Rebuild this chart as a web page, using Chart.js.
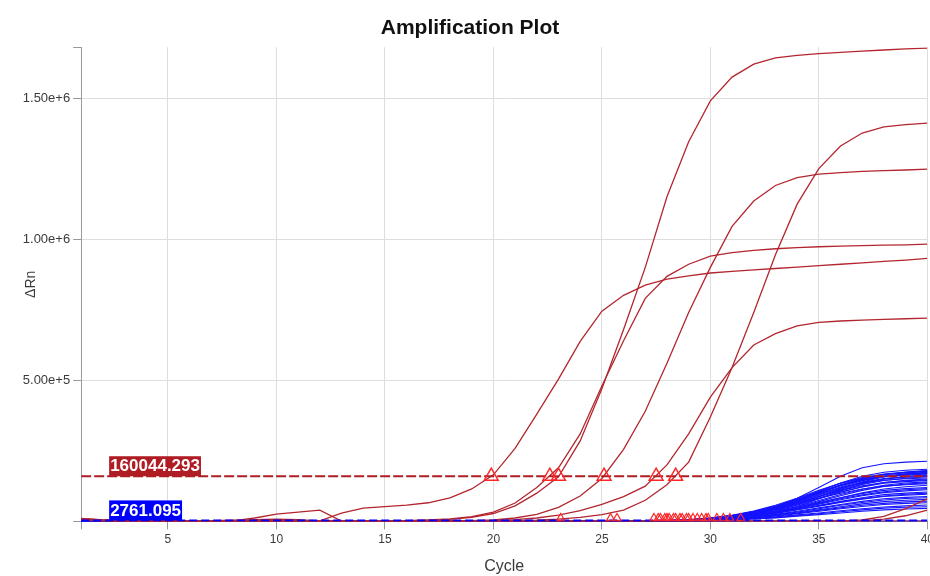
<!DOCTYPE html>
<html>
<head>
<meta charset="utf-8">
<title>Amplification Plot</title>
<script src="https://cdn.jsdelivr.net/npm/chart.js@4/dist/chart.umd.min.js"></script>
<style>
  html, body { margin:0; padding:0; background:#fff; overflow:hidden; }
  #wrap { width:937px; height:576px; }
</style>
</head>
<body>
<div id="wrap"><canvas id="amp" width="937" height="576"></canvas></div>
<script>
"use strict";

// All ΔRn values are in thousands (1 = 1e3 ΔRn).
const CYCLES = [1,2,3,4,5,6,7,8,9,10,11,12,13,14,15,16,17,18,19,20,
                21,22,23,24,25,26,27,28,29,30,31,32,33,34,35,36,37,38,39,40];

// Red (target) wells, cycles 1..40
const RED_1 = [10,5,3,2,2,2,3,4,6,8,6,2,29,47,52,58,66,83,115,165,259,380,504,638,745,801,837,858,870,880,886,891,896,901,906,911,916,921,926,932];
const RED_2 = [9,4,2,1,1,1,1,1,1,1,1,1,1,1,1,2,4,7,14,28,55,100,158,285,470,680,900,1150,1345,1490,1574,1620,1642,1651,1657,1662,1666,1670,1674,1677];
const RED_3 = [11,5,3,2,2,2,2,2,2,2,2,2,2,2,3,3,5,9,17,33,65,120,190,310,480,640,790,868,911,940,952,960,966,970,973,975,977,979,980,982];
const RED_4 = [7,3,2,1,1,1,1,1,1,1,1,1,1,1,1,1,1,2,3,5,12,25,50,90,152,255,390,560,740,900,1045,1135,1190,1218,1230,1236,1240,1243,1245,1248];
const RED_5 = [8,4,2,1,1,1,1,1,1,1,1,1,1,1,1,1,1,1,1,1,2,4,8,14,24,40,75,130,210,370,545,740,945,1124,1250,1330,1376,1398,1406,1411];
const RED_6 = [6,3,2,1,1,1,1,1,1,1,1,1,1,1,1,1,1,1,2,3,6,12,22,38,60,88,125,200,310,440,545,625,665,693,705,710,713,716,718,720];
const RED_7 = [8,4,2,1,1,1,1,2,12,26,33,40,1,1,1,1,1,1,1,1,1,1,1,1,1,1,1,1,1,1,1,1,1,1,1,1,1,1,1,1];
const RED_8 = [5,2,1,1,1,1,1,1,1,1,1,1,1,1,1,1,1,1,1,1,1,1,1,1,1,1,1,1,1,1,1,1,1,1,1,1,5,18,45,80];
const RED_9 = [4,2,1,1,1,1,1,1,1,1,1,1,1,1,1,1,1,1,1,1,1,1,1,1,1,1,1,1,1,1,1,1,1,1,1,1,2,8,20,40];
const RED_WELLS = [RED_1, RED_2, RED_3, RED_4, RED_5, RED_6, RED_7, RED_8, RED_9];

// Blue (reference) wells: flat until ~cycle 26, so only the late cycles are listed
const BLUE_CYCLES = [1,26,27,28,29,30,31,32,33,34,35,36,37,38,39,40];
const BLUE_WELLS = [
  [0,0.5,1,2,4,9,18,32,52,82,120,160,190,204,210,213],
  [0,0.4,1,2.2,4.6,9.5,18,31,50,76,106,136,160,174,181,185],
  [0,0.5,1,2.5,5,10,19,33,52,78,108,135,155,168,175,180],
  [0,0.3,0.9,2.1,4.4,9,17,29,47,72,102,130,152,166,174,179],
  [0,0.3,0.8,2,4,8,15,27,45,70,100,128,150,165,173,178],
  [0,0.6,1.2,3,6,12,22,37,57,82,110,135,153,166,172,176],
  [0,0.2,0.6,1.5,3,6,12,22,38,60,88,116,140,158,168,174],
  [0,0.4,1,2,5,10,18,30,48,72,100,126,147,161,168,172],
  [0,0.6,1.3,3,6,12,21,35,54,78,104,128,148,161,167,171],
  [0,0.3,0.8,2,4,8,16,28,45,68,95,122,144,158,166,170],
  [0,0.5,1,2.5,5,11,20,34,53,77,103,127,146,158,164,168],
  [0,0.2,0.5,1.2,2.5,5,10,19,33,53,80,108,133,150,159,165],
  [0,0.4,1,2,4.5,9,17,29,46,68,93,118,139,152,158,162],
  [0,0.3,0.7,1.7,3.5,7.5,14,25,41,62,88,114,136,150,157,160],
  [0,0.3,0.8,1.8,4,8,15,26,42,63,87,111,131,145,153,158],
  [0,0.5,1.2,2.8,6,12,21,35,53,75,98,119,136,146,151,154],
  [0,0.2,0.6,1.5,3,7,13,23,38,57,80,103,123,138,146,150],
  [0,0.5,1.1,2.5,5.2,10,18,30,46,66,88,109,126,138,144,147],
  [0,0.4,1,2.2,4.5,9,16,27,42,61,83,104,122,135,141,145],
  [0,0.3,0.7,1.6,3.5,7,13,22,36,53,74,95,114,128,136,140],
  [0,0.2,0.5,1.2,2.7,5.5,11,20,33,50,70,91,110,124,132,137],
  [0,0.5,1,2.4,5,10,18,29,44,62,82,100,115,125,130,134],
  [0,0.2,0.5,1.3,3,6,11,19,31,46,65,84,101,115,123,128],
  [0,0.4,0.9,2,4,8,14,23,35,50,67,84,99,110,116,120],
  [0,0.3,0.8,1.8,3.7,7,13,21,33,47,63,80,94,105,112,116],
  [0,0.3,0.7,1.6,3.3,6.5,12,20,31,45,61,77,91,102,108,112],
  [0,0.2,0.6,1.4,3,6,11,18,28,41,56,71,84,95,100,104],
  [0,0.5,1,2.2,4.2,8,13,21,31,43,56,69,81,90,96,100],
  [0,0.4,0.8,1.8,3.6,7,12,19,29,41,54,67,79,88,93,96],
  [0,0.3,0.6,1.4,2.8,5.5,10,16,25,36,48,60,71,80,85,88],
  [0,0.2,0.5,1.2,2.5,5,9,15,23,33,45,57,67,76,81,84],
  [0,0.2,0.5,1.1,2.3,4.5,8,13,21,30,41,52,62,70,75,78],
  [0,0.4,0.8,1.6,3,5.5,9,14,21,29,39,48,57,64,69,72],
  [0,0.3,0.6,1.2,2.4,4.5,8,12.5,19,27,36,45,53,60,64,66],
  [0,0.2,0.5,1,2,3.8,6.5,10.5,16,23,30,38,45,51,55,58],
  [0,0.2,0.4,0.9,1.8,3.4,6,9.5,14,20,27,34,41,47,50,52],
  [0,0.3,0.5,1,1.8,3.2,5.5,8.5,12.5,18,24,30,36,41,44,46],
  [0,0.2,0.3,0.2,0.4,0.3,0.5,0.4,0.6,0.5,0.7,0.6,0.8,0.7,0.9,0.8],
];

// Thresholds (raw ΔRn) and the Ct markers drawn on them
const THRESHOLDS = [160044.293, 2761.095];
const CT_RED = [19.9, 22.6, 23.0, 25.1, 27.5, 28.4];
const CT_BLUE = [23.1, 25.4, 25.7, 27.4, 27.6, 27.7, 27.9, 28.0, 28.1, 28.3, 28.4, 28.6, 28.7,
                 28.9, 29.0, 29.2, 29.4, 29.6, 29.8, 29.9, 30.3, 30.6, 30.9, 31.4];
const CT_BLUE_Y = 12;   // small markers sit just above the lower threshold in the plot

const X_TICKS = [1,5,10,15,20,25,30,35,40];
const Y_TICKS = [0,500,1000,1500,1680];
const Y_LABELED = [500,1000,1500];

const C = {red:'#b3262f', blue:'#1414ff', thrRed:'#b01c23', thrBlue:'#0000ff',
           marker:'#ff2626', grid:'#dedede', axis:'#9a9a9a', ink:'#3a3a3a'};
const FONT = "'Liberation Sans', Arial, sans-serif";

const pts = (xs, ys) => ys.map((v, i) => ({x: xs[i], y: v}));

const datasets = [];
datasets.push({label:'Ct', data:CT_RED.map(c => ({x:c, y:THRESHOLDS[0] / 1000})), showLine:false,
  pointStyle:'triangle', pointRadius:8, pointBorderColor:C.marker, pointBackgroundColor:'rgba(0,0,0,0)',
  pointBorderWidth:1.5, order:0});
datasets.push({label:'Ct ref', data:CT_BLUE.map(c => ({x:c, y:CT_BLUE_Y})), showLine:false,
  pointStyle:'triangle', pointRadius:4.5, pointBorderColor:C.marker, pointBackgroundColor:'rgba(0,0,0,0)',
  pointBorderWidth:1.2, order:0});
THRESHOLDS.forEach((t, i) => datasets.push({label:'thr' + i,
  data:[{x:1, y:t / 1000}, {x:40, y:t / 1000}], borderColor:i ? C.thrBlue : C.thrRed,
  borderWidth:2, borderDash:i ? [8, 4] : [10, 3], pointRadius:0, order:1}));
RED_WELLS.forEach((w, i) => datasets.push({label:'red' + i, data:pts(CYCLES, w),
  borderColor:C.red, borderWidth:1.3, pointRadius:0, order:2}));
BLUE_WELLS.forEach((w, i) => datasets.push({label:'blue' + i, data:pts(BLUE_CYCLES, w),
  borderColor:C.blue, borderWidth:1.1, pointRadius:0, order:3}));

// value boxes sitting on the threshold lines
const thresholdLabels = {
  id:'thresholdLabels',
  afterDatasetsDraw(chart) {
    const {ctx, chartArea, scales:{y}} = chart;
    ctx.save();
    ctx.font = 'bold 17px ' + FONT;
    ctx.textBaseline = 'middle';
    THRESHOLDS.forEach((t, i) => {
      const txt = t.toFixed(3);
      const yp = Math.min(y.getPixelForValue(t / 1000), chartArea.bottom - 1);
      const w = ctx.measureText(txt).width + 2;
      const x0 = chartArea.left + 28;
      ctx.fillStyle = i ? C.thrBlue : C.thrRed;
      ctx.fillRect(x0, yp - 20, w, 20);
      ctx.fillStyle = '#fff';
      ctx.fillText(txt, x0 + 1, yp - 9.5);
    });
    ctx.restore();
  }
};

new Chart(document.getElementById('amp'), {
  type:'line',
  data:{datasets},
  plugins:[thresholdLabels],
  options:{
    responsive:false, animation:false, events:[],
    layout:{padding:{left:3, bottom:0}},
    elements:{line:{tension:0}},
    plugins:{
      legend:{display:false}, tooltip:{enabled:false},
      title:{display:true, text:'Amplification Plot', color:'#111',
        font:{family:FONT, size:21, weight:'bold'}, padding:{top:16, bottom:6}},
    },
    scales:{
      x:{type:'linear', min:1, max:40,
        afterBuildTicks:s => { s.ticks = X_TICKS.map(v => ({value:v})); },
        ticks:{color:C.ink, font:{family:FONT, size:12}, padding:3, maxRotation:0,
          callback:v => v === 1 ? '' : String(v)},
        grid:{color:C.grid, tickColor:C.axis, tickLength:8},
        border:{color:C.axis, width:1},
        title:{display:true, text:'Cycle', color:C.ink, font:{family:FONT, size:16}, padding:{top:7, bottom:0}}},
      y:{min:0, max:1680,
        afterBuildTicks:s => { s.ticks = Y_TICKS.map(v => ({value:v})); },
        ticks:{color:C.ink, font:{family:FONT, size:13}, padding:3,
          callback:v => Y_LABELED.includes(v) ? (v * 1000).toExponential(2) : ''},
        grid:{color:c => (c.tick && c.tick.value === 1680) ? 'rgba(0,0,0,0)' : C.grid,
          tickColor:C.axis, tickLength:8},
        border:{color:C.axis, width:1},
        title:{display:true, text:'ΔRn', color:C.ink, font:{family:FONT, size:14}, padding:{top:20, bottom:-20}}},
    },
  },
});
</script>
</body>
</html>
